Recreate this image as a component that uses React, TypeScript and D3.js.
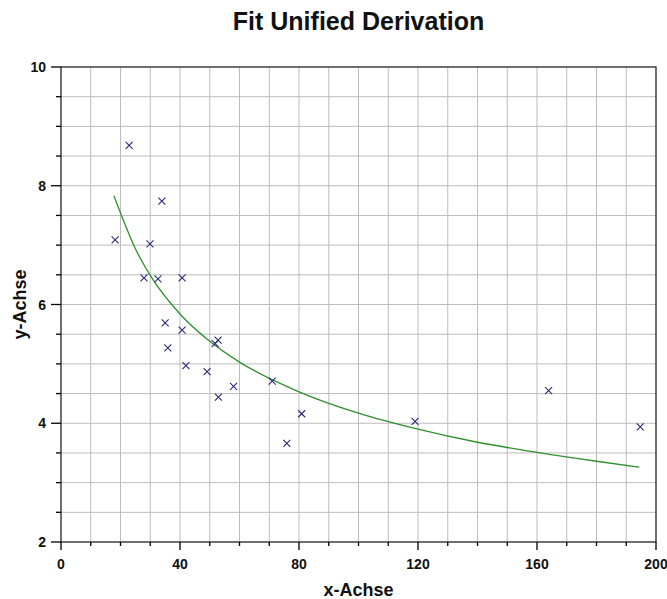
import { useEffect, useRef } from 'react';
import * as d3 from 'd3';

// measured points (x, y)
const pointX = [18.2, 22.9, 33.9, 29.9, 27.9, 32.6, 40.7, 35.0, 40.7, 35.9, 42.0, 52.8, 51.8, 49.1, 52.9, 58.0, 71.0, 80.9, 75.9, 119.0, 163.9, 194.7];
const pointY = [7.09, 8.68, 7.74, 7.02, 6.45, 6.43, 6.45, 5.69, 5.57, 5.27, 4.97, 5.40, 5.34, 4.87, 4.44, 4.62, 4.71, 4.16, 3.66, 4.03, 4.55, 3.94];

// fitted curve
const fitX = [17.8, 20, 25, 30, 40, 50, 60, 80, 100, 120, 140, 160, 180, 194.4];
const fitY = [7.83, 7.54, 6.94, 6.49, 5.84, 5.38, 5.03, 4.53, 4.17, 3.90, 3.68, 3.51, 3.36, 3.26];

const xTicks = [0, 40, 80, 120, 160, 200];
const yTicks = [2, 4, 6, 8, 10];

const W = 667;
const H = 599;

export default function App() {
  const svgRef = useRef<SVGSVGElement>(null);

  useEffect(() => {
    if (!svgRef.current) return;
    const svg = d3.select(svgRef.current);
    svg.selectAll('*').remove();

    const left = 61, right = 656, top = 67, bottom = 542;
    const x = d3.scaleLinear().domain([0, 200]).range([left, right]);
    const y = d3.scaleLinear().domain([2, 10]).range([bottom, top]);
    const font = 'Arial, "Liberation Sans", sans-serif';

    svg.append('rect').attr('width', W).attr('height', H).attr('fill', '#fff');

    // Grid
    const grid = svg.append('g').attr('stroke', '#bdbdbd').attr('stroke-width', 1);
    d3.range(10, 200, 10).forEach((v) => {
      grid.append('line')
        .attr('x1', x(v)).attr('x2', x(v))
        .attr('y1', top).attr('y2', bottom);
    });
    d3.range(2.5, 10, 0.5).forEach((v) => {
      grid.append('line')
        .attr('x1', left).attr('x2', right)
        .attr('y1', y(v)).attr('y2', y(v));
    });

    // Frame
    svg.append('rect')
      .attr('x', left).attr('y', top)
      .attr('width', right - left).attr('height', bottom - top)
      .attr('fill', 'none').attr('stroke', '#222').attr('stroke-width', 1.3);

    // Ticks
    const ticks = svg.append('g').attr('stroke', '#000').attr('stroke-width', 1.3);
    d3.range(0, 201, 10).forEach((v) => {
      const major = v % 40 === 0;
      ticks.append('line')
        .attr('x1', x(v)).attr('x2', x(v))
        .attr('y1', bottom).attr('y2', bottom + (major ? 8 : 4));
    });
    d3.range(2, 10.01, 0.5).forEach((v) => {
      const major = Math.abs(v % 2) < 1e-6;
      ticks.append('line')
        .attr('x1', left - (major ? 10 : 5)).attr('x2', left)
        .attr('y1', y(v)).attr('y2', y(v));
    });

    // Tick labels
    svg.append('g').selectAll('text').data(xTicks).join('text')
      .attr('x', (d) => x(d)).attr('y', 569)
      .attr('text-anchor', 'middle')
      .attr('font-family', font).attr('font-weight', 'bold').attr('font-size', '14px')
      .attr('fill', '#111')
      .text((d) => d);

    svg.append('g').selectAll('text').data(yTicks).join('text')
      .attr('x', 46).attr('y', (d) => y(d) + 5)
      .attr('text-anchor', 'end')
      .attr('font-family', font).attr('font-weight', 'bold').attr('font-size', '14px')
      .attr('fill', '#111')
      .text((d) => d);

    // Fit curve
    const line = d3.line<number>()
      .x((_, i) => x(fitX[i]))
      .y((d) => y(d))
      .curve(d3.curveMonotoneX);
    svg.append('path')
      .attr('d', line(fitY))
      .attr('fill', 'none')
      .attr('stroke', '#2f8f2f')
      .attr('stroke-width', 1.3);

    // Points as x marks
    const s = 3.5;
    svg.append('g').selectAll('path').data(pointX).join('path')
      .attr('d', (d, i) => {
        const px = x(d), py = y(pointY[i]);
        return `M${px - s},${py - s}L${px + s},${py + s}M${px - s},${py + s}L${px + s},${py - s}`;
      })
      .attr('stroke', '#2a2a7a')
      .attr('stroke-width', 1.1)
      .attr('fill', 'none');

    // Titles
    svg.append('text')
      .attr('x', (left + right) / 2).attr('y', 30)
      .attr('text-anchor', 'middle')
      .attr('font-family', font).attr('font-weight', 'bold').attr('font-size', '25px')
      .attr('fill', '#111')
      .text('Fit Unified Derivation');

    svg.append('text')
      .attr('x', (left + right) / 2).attr('y', 596)
      .attr('text-anchor', 'middle')
      .attr('font-family', font).attr('font-weight', 'bold').attr('font-size', '18px')
      .attr('fill', '#111')
      .text('x-Achse');

    svg.append('text')
      .attr('transform', `translate(26,${(top + bottom) / 2}) rotate(-90)`)
      .attr('text-anchor', 'middle')
      .attr('font-family', font).attr('font-weight', 'bold').attr('font-size', '18px')
      .attr('fill', '#111')
      .text('y-Achse');
  }, []);

  return (
    <svg
      ref={svgRef}
      width={W}
      height={H}
      style={{ position: 'fixed', left: 0, top: 0, display: 'block' }}
    />
  );
}
